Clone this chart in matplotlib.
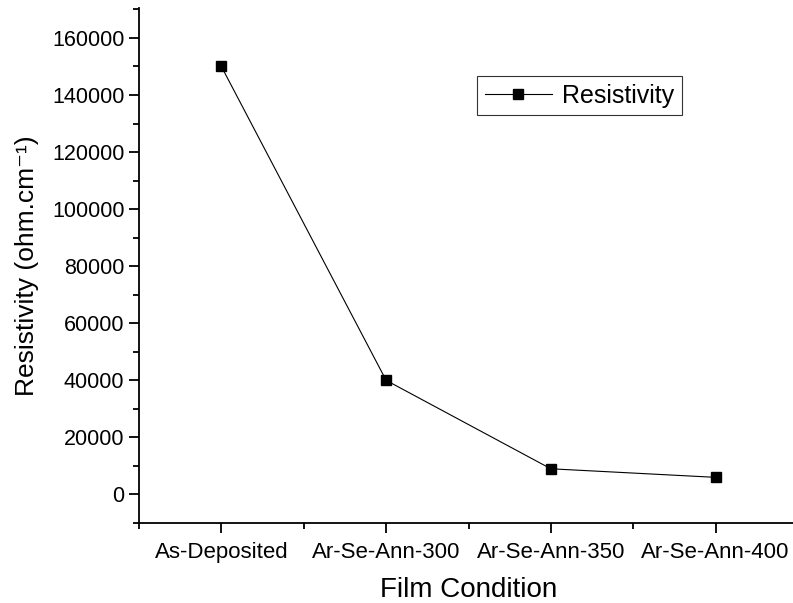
import matplotlib
matplotlib.use("Agg")
import matplotlib.pyplot as plt
from matplotlib.ticker import MultipleLocator, FixedLocator

plt.rcParams['font.family'] = ['Liberation Sans', 'DejaVu Sans']

categories = ["As-Deposited", "Ar-Se-Ann-300", "Ar-Se-Ann-350", "Ar-Se-Ann-400"]
resistivity = [150000, 40000, 9000, 6000]

W, H = 793, 603
fig = plt.figure(figsize=(W / 100, H / 100), dpi=100)
ax_l, ax_r, ax_t, ax_b = 139, 798, 8, 523
ax = fig.add_axes([ax_l / W, 1 - ax_b / H, (ax_r - ax_l) / W, (ax_b - ax_t) / H])

x = list(range(len(categories)))
ax.plot(x, resistivity, color='black', lw=0.8, marker='s', markersize=7.5,
        markerfacecolor='black', markeredgecolor='black', label='Resistivity')

ax.set_xlim(-0.5, 3.5)
ax.set_ylim(-10000, 170500)
ax.set_xticks(x)
ax.set_xticklabels(categories)
ax.xaxis.set_minor_locator(FixedLocator([-0.5, 0.5, 1.5, 2.5]))
ax.yaxis.set_major_locator(MultipleLocator(20000))
ax.yaxis.set_minor_locator(MultipleLocator(10000))

for s in ['top', 'right']:
    ax.spines[s].set_visible(False)
for s in ['left', 'bottom']:
    ax.spines[s].set_linewidth(1.3)

ax.tick_params(which='major', direction='out', length=7, width=1.3, labelsize=15.5)
ax.tick_params(axis='x', which='major', labelsize=16)
ax.tick_params(which='minor', direction='out', length=4, width=1.3)
ax.tick_params(axis='x', pad=7)

ax.set_xlabel('Film Condition', fontsize=20, labelpad=10)
ax.set_ylabel('Resistivity (ohm.cm\u207b\u00b9)', fontsize=19, labelpad=9)

lx = (477 - ax_l) / (ax_r - ax_l)
ly = 1 - (76 - ax_t) / (ax_b - ax_t)
leg = ax.legend(loc='upper left', bbox_to_anchor=(lx, ly),
                bbox_transform=ax.transAxes, fontsize=18, frameon=True, fancybox=False,
                handlelength=2.7, borderpad=0.3, handletextpad=0.4, borderaxespad=0)
leg.get_frame().set_edgecolor('#333333')
leg.get_frame().set_linewidth(0.8)
leg.get_frame().set_alpha(1)

fig.savefig('out.png', dpi=100)
